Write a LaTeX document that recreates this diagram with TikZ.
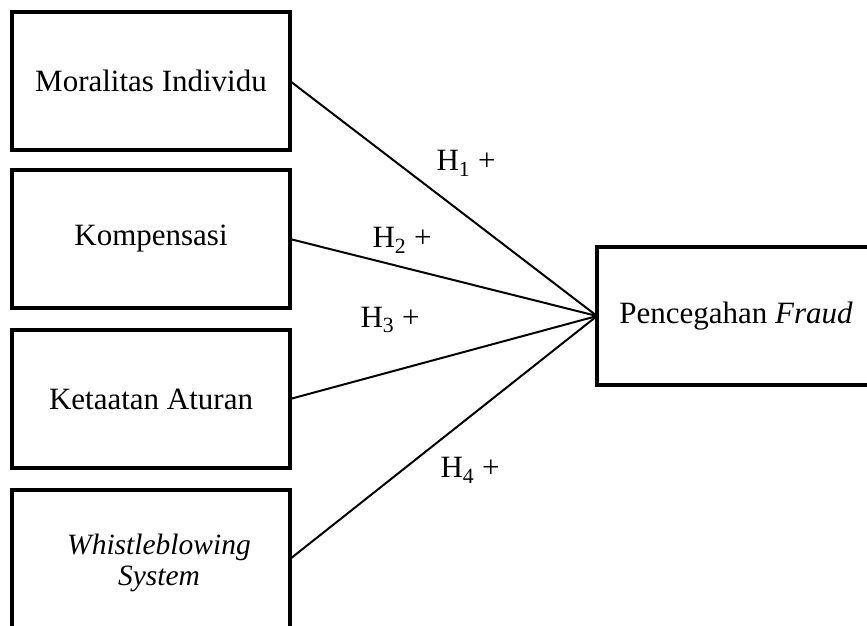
\documentclass[tikz,border=0pt]{standalone}
\usepackage{fontspec}
\setmainfont{Liberation Serif}
\begin{document}
\begin{tikzpicture}[x=1pt,y=-1pt,
  varbox/.style={draw=black,line width=4pt,minimum width=278pt,minimum height=138pt,inner sep=0pt,outer sep=0pt,align=center,font=\fontsize{31}{32}\selectfont},
  link/.style={draw=black,line width=2pt},
  hlabel/.style={inner sep=0pt,font=\fontsize{31}{32}\selectfont}]
\useasboundingbox (0,0) rectangle (867,625);
\clip (0,0) rectangle (867,625);
\node[varbox] (b1) at (151,81) {Moralitas Individu};
\node[varbox] (b2) at (151,239) {Kompensasi};
\node[varbox] (b3) at (151,399) {Ketaatan Aturan};
\node[varbox] (b4) at (151,559) {};
\node[align=center,inner sep=0pt,font=\fontsize{29.5}{31}\selectfont\itshape] (b4t) at (159,563) {Whistleblowing\\System};
\node[varbox] (r) at (736,316) {Pencegahan \textit{Fraud}};
\draw[link] (b1.east) -- (r.west);
\draw[link] (b2.east) -- (r.west);
\draw[link] (b3.east) -- (r.west);
\draw[link] (b4.east) -- (r.west);
\node[hlabel] (h1) at (466,163) {H\textsubscript{1} +};
\node[hlabel] (h2) at (402,240) {H\textsubscript{2} +};
\node[hlabel] (h3) at (390,320) {H\textsubscript{3} +};
\node[hlabel] (h4) at (470,470) {H\textsubscript{4} +};
\end{tikzpicture}
\end{document}
